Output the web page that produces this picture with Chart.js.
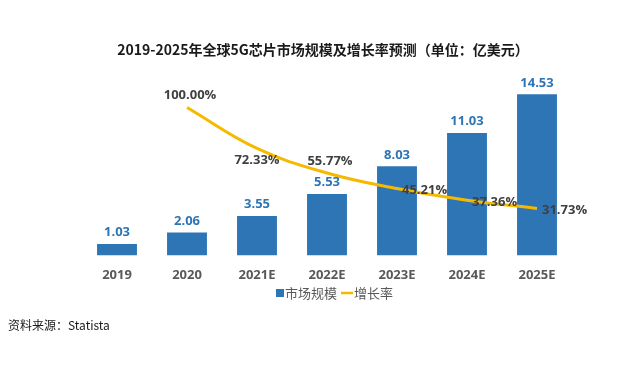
<!DOCTYPE html>
<html>
<head>
<meta charset="utf-8">
<script src="https://cdn.jsdelivr.net/npm/chart.js@4"></script>
<style>
  html, body { margin: 0; padding: 0; background: #fff; }
  #wrap { position: relative; width: 640px; height: 367px; }
</style>
</head>
<body>
<div id="wrap"><canvas id="chart" width="640" height="367"></canvas></div>
<script>
// --- Datos ---
const years = ["2019", "2020", "2021E", "2022E", "2023E", "2024E", "2025E"];
const marketSize = [1.03, 2.06, 3.55, 5.53, 8.03, 11.03, 14.53];
const growthRate = [null, 100.00, 72.33, 55.77, 45.21, 37.36, 31.73];
// where each growth label sits relative to its point
const growthLabelPos = [null, "top", "bottom", "top", "right", "right", "right"];

const titleText = "2019-2025年全球5G芯片市场规模及增长率预测（单位：亿美元）";
const sourceText = "资料来源：Statista";

const BLUE = "#2E75B6";
const GOLD = "#F5BA00";
const FONT = "'Open Sans', 'Noto Sans CJK SC', sans-serif";
const CJK = "'Noto Sans CJK SC', 'Open Sans', sans-serif";

// --- Etiquetas, título, leyenda, fuente ---
const extras = {
  id: "extras",
  afterDatasetsDraw(chart) {
    const ctx = chart.ctx;
    ctx.save();

    // bar values
    const barMeta = chart.getDatasetMeta(0);
    ctx.font = "bold 13px " + FONT;
    ctx.fillStyle = BLUE;
    ctx.textAlign = "center";
    ctx.textBaseline = "bottom";
    barMeta.data.forEach((bar, i) => {
      ctx.fillText(marketSize[i].toFixed(2), bar.x, bar.y - 5);
    });

    // growth values
    const lineMeta = chart.getDatasetMeta(1);
    ctx.fillStyle = "#404040";
    lineMeta.data.forEach((pt, i) => {
      if (growthRate[i] == null) return;
      const txt = growthRate[i].toFixed(2) + "%";
      const pos = growthLabelPos[i];
      if (pos === "top") {
        ctx.textAlign = "center"; ctx.textBaseline = "middle";
        ctx.fillText(txt, pt.x + 3, pt.y - 12);
      } else if (pos === "bottom") {
        ctx.textAlign = "center"; ctx.textBaseline = "middle";
        ctx.fillText(txt, pt.x, pt.y + 12);
      } else {
        ctx.textAlign = "left"; ctx.textBaseline = "middle";
        ctx.fillText(txt, pt.x + 5, pt.y + 2);
      }
    });

    // title
    ctx.fillStyle = "#1a1a1a";
    ctx.font = "bold 14px " + CJK;
    ctx.textAlign = "center";
    ctx.textBaseline = "middle";
    ctx.fillText(titleText, 323, 50);

    // legend
    ctx.font = "13px " + CJK;
    ctx.textAlign = "left";
    ctx.fillStyle = BLUE;
    ctx.fillRect(276, 289, 8, 8);
    ctx.fillStyle = "#595959";
    ctx.fillText("市场规模", 285, 293);
    ctx.strokeStyle = GOLD;
    ctx.lineWidth = 2.5;
    ctx.beginPath();
    ctx.moveTo(341, 293);
    ctx.lineTo(353, 293);
    ctx.stroke();
    ctx.fillText("增长率", 354, 293);

    // source
    ctx.fillStyle = "#1a1a1a";
    ctx.font = "12px " + CJK;
    ctx.fillText(sourceText, 8, 325);

    ctx.restore();
  }
};

// --- Gráfico ---
new Chart(document.getElementById("chart").getContext("2d"), {
  data: {
    labels: years,
    datasets: [
      {
        type: "bar",
        label: "市场规模",
        data: marketSize,
        backgroundColor: BLUE,
        categoryPercentage: 1,
        barPercentage: 0.57,
        yAxisID: "y",
        order: 2
      },
      {
        type: "line",
        label: "增长率",
        data: growthRate,
        borderColor: GOLD,
        borderWidth: 3,
        pointRadius: 0,
        tension: 0.4,
        fill: false,
        yAxisID: "y1",
        order: 1
      }
    ]
  },
  plugins: [extras],
  options: {
    responsive: false,
    animation: false,
    layout: { padding: { left: 82, right: 68, top: 78, bottom: 80 } },
    plugins: {
      legend: { display: false },
      title: { display: false },
      tooltip: { enabled: false }
    },
    scales: {
      x: {
        grid: { display: false },
        border: { display: false },
        ticks: {
          color: "#595959",
          font: { family: FONT, size: 13, weight: "bold" },
          padding: 4
        }
      },
      y: { display: false, min: 0, max: 16 },
      y1: { display: false, min: 0, max: 120, position: "right" }
    }
  }
});
</script>
</body>
</html>
